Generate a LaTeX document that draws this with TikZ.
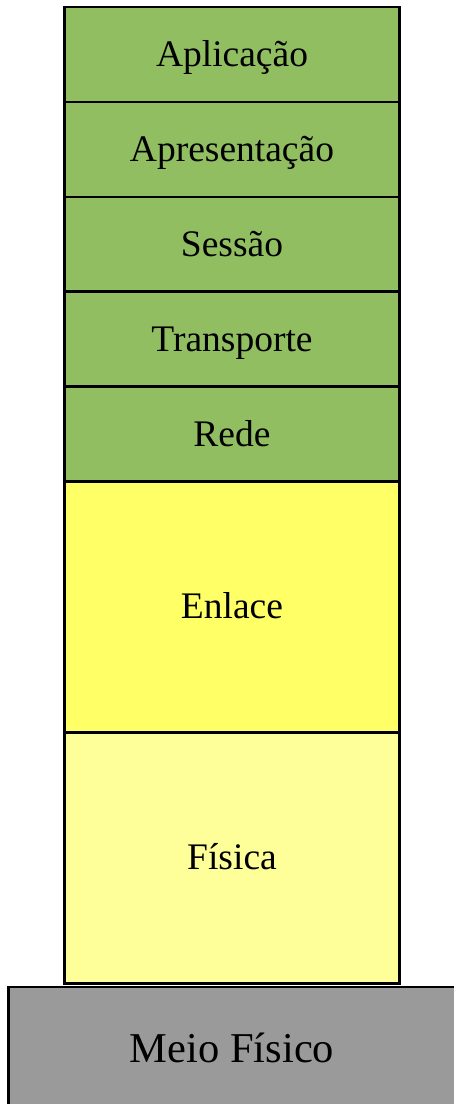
\documentclass[tikz,border=0pt]{standalone}
\usepackage{fontspec}
\setmainfont{Liberation Serif}
\definecolor{layergreen}{HTML}{92BE62}
\definecolor{layeryellow}{HTML}{FFFF66}
\definecolor{layerpale}{HTML}{FFFF99}
\definecolor{mediumgray}{HTML}{9A9A9A}
\begin{document}
\begin{tikzpicture}[x=1pt,y=-1pt,
  layer/.style={draw=black, line width=2.6pt, minimum width=335pt, inner sep=0pt, outer sep=0pt,
    text=black},
  caption/.style={font=\fontsize{37.5}{42}\selectfont, text=black, anchor=base, inner sep=0pt},
  upper/.style={layer, fill=layergreen, minimum height=95pt},
  lower/.style={layer, minimum height=251pt}]
\useasboundingbox (0,0) rectangle (454,1104);
\clip (0,0) rectangle (454,1104);
% upper layers
\node[upper] (apl) at (232,54.5) {};
\node[upper] (apr) at (232,149.5) {};
\node[upper] (ses) at (232,244.5) {};
\node[upper] (tra) at (232,339) {};
\node[upper] (red) at (232,434) {};
% link and physical layers
\node[lower, fill=layeryellow] (enl) at (232,607) {};
\node[lower, fill=layerpale] (fis) at (232,858) {};
% layer names, placed on their baselines
\node[caption] (aplt) at (232,66) {Aplicação};
\node[caption] (aprt) at (232,161) {Apresentação};
\node[caption] (sest) at (232,256) {Sessão};
\node[caption] (trat) at (232,351) {Transporte};
\node[caption] (redt) at (232,446) {Rede};
\node[caption] (enlt) at (232,618) {Enlace};
\node[caption] (fist) at (232,869) {Física};
% transmission medium
\draw[line width=2.6pt, fill=mediumgray] (8.5,987) rectangle (480,1130);
\node[caption, font=\fontsize{42.5}{48}\selectfont] (meio) at (232,1062) {Meio Físico};
\end{tikzpicture}
\end{document}
